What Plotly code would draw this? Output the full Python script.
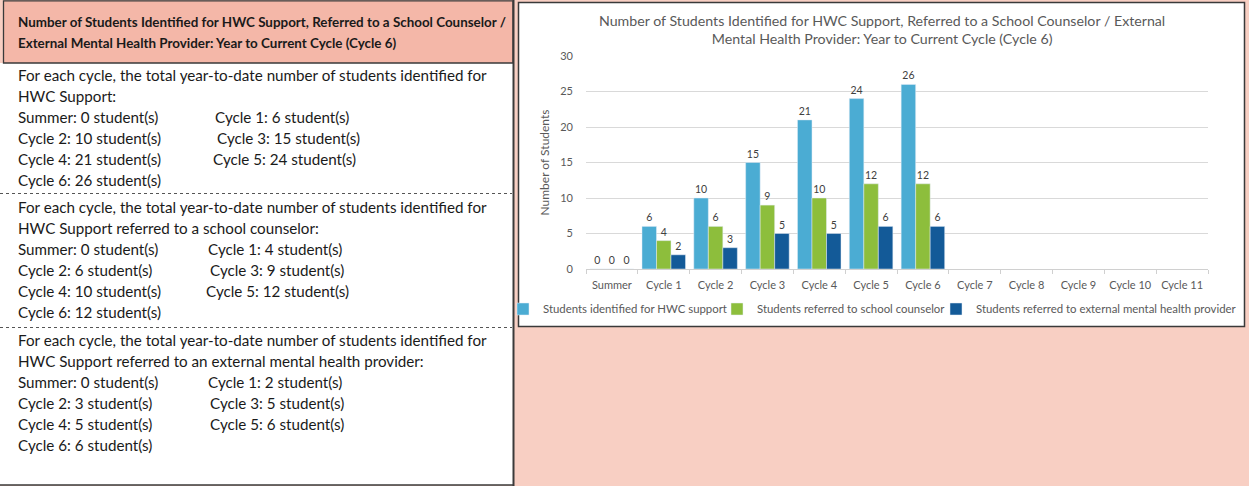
import plotly.graph_objects as go

W, H = 1249, 486

categories = ["Summer", "Cycle 1", "Cycle 2", "Cycle 3", "Cycle 4", "Cycle 5", "Cycle 6",
              "Cycle 7", "Cycle 8", "Cycle 9", "Cycle 10", "Cycle 11"]
identified = [0, 6, 10, 15, 21, 24, 26, None, None, None, None, None]
counselor = [0, 4, 6, 9, 10, 12, 12, None, None, None, None, None]
external = [0, 2, 3, 5, 5, 6, 6, None, None, None, None, None]

series_names = ["Students identified for HWC support",
                "Students referred to school counselor",
                "Students referred to external mental health provider"]
series_colors = ["#4BACD3", "#8DBE3C", "#135A98"]

chart_title = ("Number of Students Identified for HWC Support, Referred to a School Counselor / External"
               "<br>Mental Health Provider: Year to Current Cycle (Cycle 6)")
header_lines = ["Number of Students Identified for HWC Support, Referred to a School Counselor /",
                "External Mental Health Provider: Year to Current Cycle (Cycle 6)"]
block_intros = [
    ["For each cycle, the total year-to-date number of students identified for", "HWC Support:"],
    ["For each cycle, the total year-to-date number of students identified for",
     "HWC Support referred to a school counselor:"],
    ["For each cycle, the total year-to-date number of students identified for",
     "HWC Support referred to an external mental health provider:"],
]
block_series = [identified, counselor, external]

FONT = "Lato"
TXT = "#1a1a1a"
GRAY = "#595959"


def px(x):
    return x / W


def py(y):
    return 1 - y / H


fig = go.Figure()
legend_ids = ["legend", "legend2", "legend3"]
for name, vals, col, lg in zip(series_names, block_series, series_colors, legend_ids):
    fig.add_trace(go.Bar(
        x=categories, y=vals, name=name, marker_color=col, legend=lg,
        text=["" if v is None else str(v) for v in vals],
        textposition="outside", cliponaxis=False,
        textfont=dict(size=10.5, color="#404040", family=FONT),
    ))

shapes = []
shapes.append(dict(type="rect", xref="paper", yref="paper", x0=px(0), x1=px(513), y0=py(485), y1=py(63),
                   fillcolor="white", line=dict(width=0), layer="below"))
shapes.append(dict(type="rect", xref="paper", yref="paper", x0=px(3.5), x1=px(513), y0=py(63), y1=py(0.8),
                   fillcolor="#F4B7A8", line=dict(color="#3A3A3A", width=1.3), layer="below"))
shapes.append(dict(type="line", xref="paper", yref="paper", x0=px(513.5), x1=px(513.5), y0=py(486), y1=py(0),
                   line=dict(color="#3A3A3A", width=2)))
shapes.append(dict(type="line", xref="paper", yref="paper", x0=px(0), x1=px(513), y0=py(485), y1=py(485),
                   line=dict(color="#3A3A3A", width=1.3)))
for yy in (193.5, 327.5):
    shapes.append(dict(type="line", xref="paper", yref="paper", x0=px(0), x1=px(512), y0=py(yy), y1=py(yy),
                       line=dict(color="#555555", width=1, dash="dot")))
shapes.append(dict(type="rect", xref="paper", yref="paper", x0=px(518.5), x1=px(1244.5), y0=py(326.5), y1=py(2.5),
                   fillcolor="white", line=dict(color="#3A3A3A", width=1.5), layer="below"))

annotations = []
for i, t in enumerate(header_lines):
    annotations.append(dict(xref="paper", yref="paper", x=px(16), y=py(22 + 21 * i), text="<b>" + t + "</b>",
                            showarrow=False, xanchor="left", yanchor="middle",
                            font=dict(size=13.4, color=TXT, family=FONT)))

block_tops = [75, 206.5, 340]
col2_x = [[213, 215, 211], [206, 208, 204], [206, 208, 208]]
for b, (intro, vals) in enumerate(zip(block_intros, block_series)):
    y0 = block_tops[b]
    rows = []
    for k in range(0, 7, 2):
        left = f"{categories[k]}: {vals[k]} student(s)"
        right = f"{categories[k + 1]}: {vals[k + 1]} student(s)" if k + 1 < 7 else None
        rows.append((left, right))
    for i, t in enumerate(intro):
        annotations.append(dict(xref="paper", yref="paper", x=px(16), y=py(y0 + 21 * i), text=t,
                                showarrow=False, xanchor="left", yanchor="middle",
                                font=dict(size=15.2, color=TXT, family=FONT)))
    for r, (lt, rt) in enumerate(rows):
        yy = y0 + 21 * (len(intro) + r)
        annotations.append(dict(xref="paper", yref="paper", x=px(16), y=py(yy), text=lt,
                                showarrow=False, xanchor="left", yanchor="middle",
                                font=dict(size=15.2, color=TXT, family=FONT)))
        if rt:
            annotations.append(dict(xref="paper", yref="paper", x=px(col2_x[b][r]), y=py(yy), text=rt,
                                    showarrow=False, xanchor="left", yanchor="middle",
                                    font=dict(size=15.2, color=TXT, family=FONT)))

annotations.append(dict(xref="paper", yref="paper", x=px(882), y=py(29), text=chart_title,
                        showarrow=False, xanchor="center", yanchor="middle", align="center",
                        font=dict(size=14.2, color=GRAY, family=FONT)))

leg_common = dict(orientation="h", y=py(309), yanchor="middle", xanchor="left",
                  font=dict(size=11.4, color=GRAY, family=FONT), itemwidth=30,
                  bgcolor="rgba(0,0,0,0)", borderwidth=0)

fig.update_layout(
    width=W, height=H,
    margin=dict(l=0, r=0, t=0, b=0, pad=0, autoexpand=False),
    paper_bgcolor="#F8CFC3",
    plot_bgcolor="rgba(0,0,0,0)",
    barmode="group", bargap=0.16, bargroupgap=0,
    shapes=shapes, annotations=annotations,
    showlegend=True,
    legend=dict(x=px(503), **leg_common),
    legend2=dict(x=px(717), **leg_common),
    legend3=dict(x=px(936), **leg_common),
    xaxis=dict(domain=[px(586), px(1208)], anchor="y", showline=True, linecolor="#D0D0D0",
               ticks="outside", tickson="boundaries", ticklen=4, tickcolor="#D0D0D0",
               ticklabelstandoff=6, automargin=False,
               tickfont=dict(size=11, color=GRAY, family=FONT), showgrid=False,
               categoryorder="array", categoryarray=categories),
    yaxis=dict(domain=[py(269), py(56)], range=[0, 30], dtick=5, showgrid=True, gridcolor="#D9D9D9",
               zeroline=False, showline=False, ticks="", ticklabelstandoff=12, automargin=False,
               tickfont=dict(size=11, color=GRAY, family=FONT),
               title=dict(text="Number of Students", font=dict(size=12, color=GRAY, family=FONT),
                          standoff=8)),
    font=dict(family=FONT),
)

fig.write_html(
    "out.html",
    config={"displayModeBar": False},
    post_script=("document.documentElement.style.margin='0px';document.body.style.margin='0px';"
                 "document.body.style.padding='0px';document.documentElement.style.overflow='hidden';"
                 "document.body.style.overflow='hidden';"),
)
